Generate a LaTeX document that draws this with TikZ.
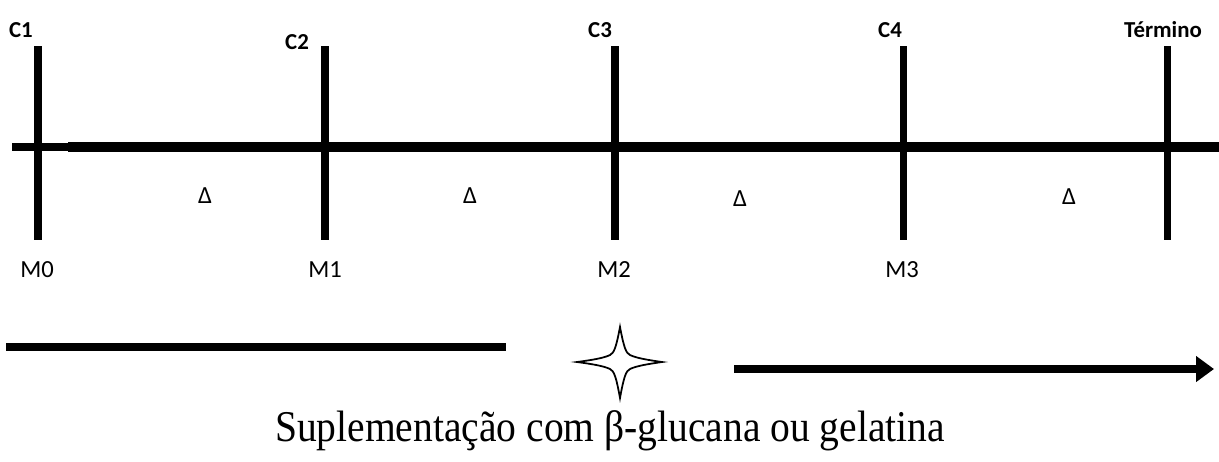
\documentclass[tikz,border=0pt]{standalone}
\usepackage{fontspec}
\setmainfont{Liberation Serif}
\setsansfont{Carlito}
\usetikzlibrary{arrows.meta}

\begin{document}
\begin{tikzpicture}[x=0.02cm, y=-0.02cm, line cap=butt,
    tick/.style={line width=4pt},
    clabel/.style={font=\sffamily\bfseries\fontsize{13}{15}\selectfont, inner sep=0pt},
    mlabel/.style={font=\sffamily\fontsize{14}{16}\selectfont, inner sep=0pt},
    dlabel/.style={font=\sffamily\fontsize{14}{16}\selectfont, inner sep=0pt}]
  \useasboundingbox (0,0) rectangle (1219,461);
  % linha do tempo
  \coordinate (ini) at (12,147);
  \coordinate (emenda) at (68,147);
  \coordinate (fim) at (1219,147);
  \draw[line width=4.6pt] (ini) -- (emenda);
  \draw[line width=5.6pt] (emenda) -- (fim);
  % coletas
  \coordinate (t0) at (38,46);   \coordinate (b0) at (38,240);
  \coordinate (t1) at (325,46);  \coordinate (b1) at (325,240);
  \coordinate (t2) at (615,46);  \coordinate (b2) at (615,240);
  \coordinate (t3) at (903,46);  \coordinate (b3) at (903,240);
  \coordinate (t4) at (1167,46); \coordinate (b4) at (1167,240);
  \draw[tick] (t0) -- (b0);
  \draw[tick] (t1) -- (b1);
  \draw[tick] (t2) -- (b2);
  \draw[tick] (t3) -- (b3);
  \draw[tick] (t4) -- (b4);
  \node[clabel] (c1) at (21,30) {C1};
  \node[clabel] (c2) at (297,42) {C2};
  \node[clabel] (c3) at (600,30) {C3};
  \node[clabel] (c4) at (890,30) {C4};
  \node[clabel] (term) at (1163,30) {Término};
  % intervalos
  \node[dlabel] (d1) at (205,196) {Δ};
  \node[dlabel] (d2) at (470,196) {Δ};
  \node[dlabel] (d3) at (740,199) {Δ};
  \node[dlabel] (d4) at (1069,197) {Δ};
  % momentos
  \node[mlabel] (m0) at (37,270) {M0};
  \node[mlabel] (m1) at (325,270) {M1};
  \node[mlabel] (m2) at (614,270) {M2};
  \node[mlabel] (m3) at (902,270) {M3};
  % suplementacao
  \coordinate (s0) at (6,347);
  \coordinate (s1) at (506,347);
  \draw[line width=4pt] (s0) -- (s1);
  \draw[line width=1pt, fill=white, line join=miter]
    (620,327) .. controls (624,348) and (626,353) .. (630,355)
    .. controls (636,358) and (648,360) .. (662,362)
    .. controls (648,364) and (636,366) .. (630,369)
    .. controls (626,371) and (624,376) .. (620,398)
    .. controls (616,376) and (614,371) .. (610,369)
    .. controls (604,366) and (592,364) .. (577,362)
    .. controls (592,360) and (604,358) .. (610,355)
    .. controls (614,353) and (616,348) .. cycle;
  \coordinate (a0) at (734,369);
  \coordinate (a1) at (1214,369);
  \draw[line width=4.4pt, -{Triangle[length=0.36cm, width=0.5cm]}] (a0) -- (a1);
  \node[font=\fontsize{25}{28}\selectfont, inner sep=0pt] (sup) at (610,431)
    {\scalebox{0.9}[1]{Suplementação com β-glucana ou gelatina}};
\end{tikzpicture}
\end{document}
